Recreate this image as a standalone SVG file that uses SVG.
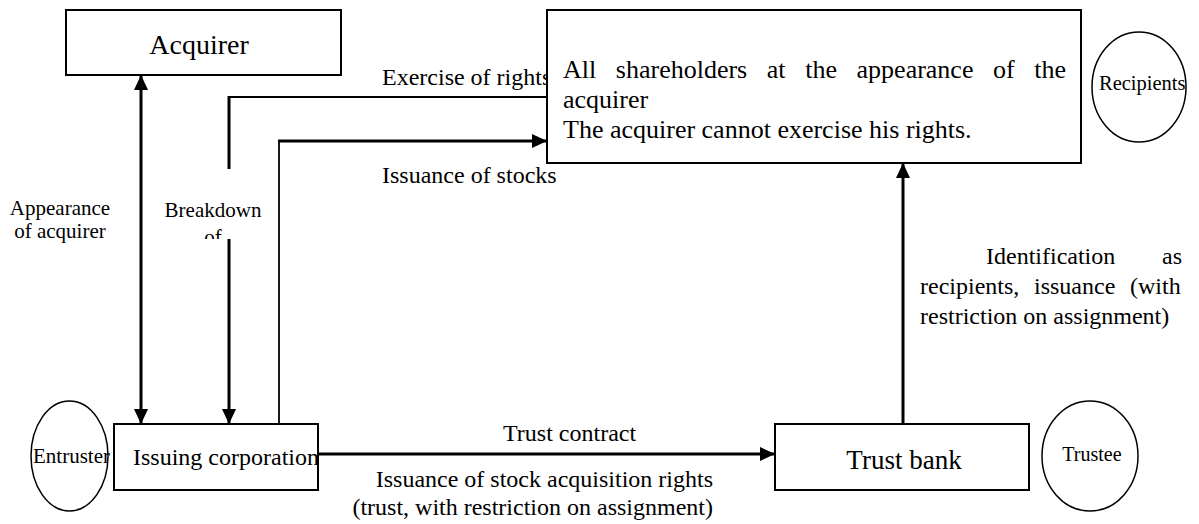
<svg xmlns="http://www.w3.org/2000/svg" width="1199" height="524" viewBox="0 0 1199 524" font-family="'Liberation Serif', 'Times New Roman', 'DejaVu Serif', serif">
  <style>
    text { font-family: 'Liberation Serif', 'Times New Roman', 'DejaVu Serif', serif; fill: #000; }
    .box { fill: #fff; stroke: #000; stroke-width: 2; }
    .oval { fill: none; stroke: #000; stroke-width: 1.5; }
    .thick { fill: none; stroke: #000; stroke-width: 3; }
    .thin { fill: none; stroke: #000; stroke-width: 1.8; }
    .lbl { font-size: 24px; }
    .small { font-size: 21px; }
  </style>
  <defs>
    <marker id="head" markerUnits="userSpaceOnUse" markerWidth="16" markerHeight="14" refX="15" refY="7" orient="auto-start-reverse">
      <path d="M0,0 L15,7 L0,14 z" fill="#000"/>
    </marker>
    <clipPath id="cutOf">
      <rect x="190" y="220" width="50" height="19"/>
    </clipPath>
  </defs>

  <!-- connectors -->
  <g id="connectors">
    <!-- acquirer <-> issuing corporation -->
    <line class="thick" x1="141" y1="75" x2="141" y2="424" marker-start="url(#head)" marker-end="url(#head)"/>
    <!-- exercise of rights -->
    <line class="thin" x1="229" y1="97" x2="547" y2="97"/>
    <line class="thick" x1="229" y1="96" x2="229" y2="169"/>
    <!-- breakdown -->
    <line class="thick" x1="229" y1="239" x2="229" y2="424" marker-end="url(#head)"/>
    <!-- issuance of stocks -->
    <line class="thin" x1="279" y1="141" x2="279" y2="424"/>
    <line class="thick" x1="278" y1="141" x2="547" y2="141" marker-end="url(#head)"/>
    <!-- trust contract -->
    <line class="thick" x1="318" y1="454" x2="775" y2="454" marker-end="url(#head)"/>
    <!-- trust bank to shareholders -->
    <line class="thick" x1="903" y1="424" x2="903" y2="163" marker-end="url(#head)"/>
  </g>

  <!-- connector labels -->
  <g id="labels">
    <text class="lbl" x="382" y="85">Exercise of rights</text>
    <text class="lbl" x="382" y="183">Issuance of stocks</text>
    <text class="small" x="60" y="215" text-anchor="middle">Appearance</text>
    <text class="small" x="60" y="238" text-anchor="middle">of acquirer</text>
    <text class="small" x="213" y="217" text-anchor="middle">Breakdown</text>
    <text class="small" x="213" y="244" text-anchor="middle" clip-path="url(#cutOf)">of</text>
    <text class="lbl" x="503" y="441">Trust contract</text>
    <text class="lbl" x="713" y="487" text-anchor="end">Issuance of stock acquisition rights</text>
    <text class="lbl" x="713" y="515" text-anchor="end">(trust, with restriction on assignment)</text>
    <text class="lbl" x="986" y="264">Identification</text>
    <text class="lbl" x="1182" y="264" text-anchor="end">as</text>
    <text class="lbl" x="920" y="294" word-spacing="8.7">recipients, issuance (with</text>
    <text class="lbl" x="920" y="324">restriction on assignment)</text>
  </g>

  <g id="acquirer">
    <rect class="box" x="66" y="10" width="275" height="65"/>
    <text x="199" y="54" font-size="28" text-anchor="middle">Acquirer</text>
  </g>

  <g id="shareholders">
    <rect class="box" x="547" y="10" width="534" height="153"/>
    <text x="563" y="78" font-size="26" word-spacing="13.1">All shareholders at the appearance of the</text>
    <text x="563" y="108" font-size="26">acquirer</text>
    <text x="563" y="138" font-size="26">The acquirer cannot exercise his rights.</text>
  </g>

  <g id="recipients">
    <ellipse class="oval" cx="1139" cy="87" rx="47" ry="55"/>
    <text x="1099" y="90" font-size="20.5">Recipients</text>
  </g>

  <g id="entruster">
    <ellipse class="oval" cx="69.5" cy="456" rx="38.5" ry="55"/>
    <text x="33" y="463" font-size="21">Entruster</text>
  </g>

  <g id="issuing-corporation">
    <rect class="box" x="114" y="424" width="204" height="66"/>
    <text x="133" y="465" font-size="24">Issuing corporation</text>
  </g>

  <g id="trust-bank">
    <rect class="box" x="775" y="424" width="254" height="66"/>
    <text x="904" y="469" font-size="27" text-anchor="middle">Trust bank</text>
  </g>

  <g id="trustee">
    <ellipse class="oval" cx="1090" cy="456" rx="48" ry="55"/>
    <text x="1092" y="461" font-size="20" text-anchor="middle">Trustee</text>
  </g>
</svg>
